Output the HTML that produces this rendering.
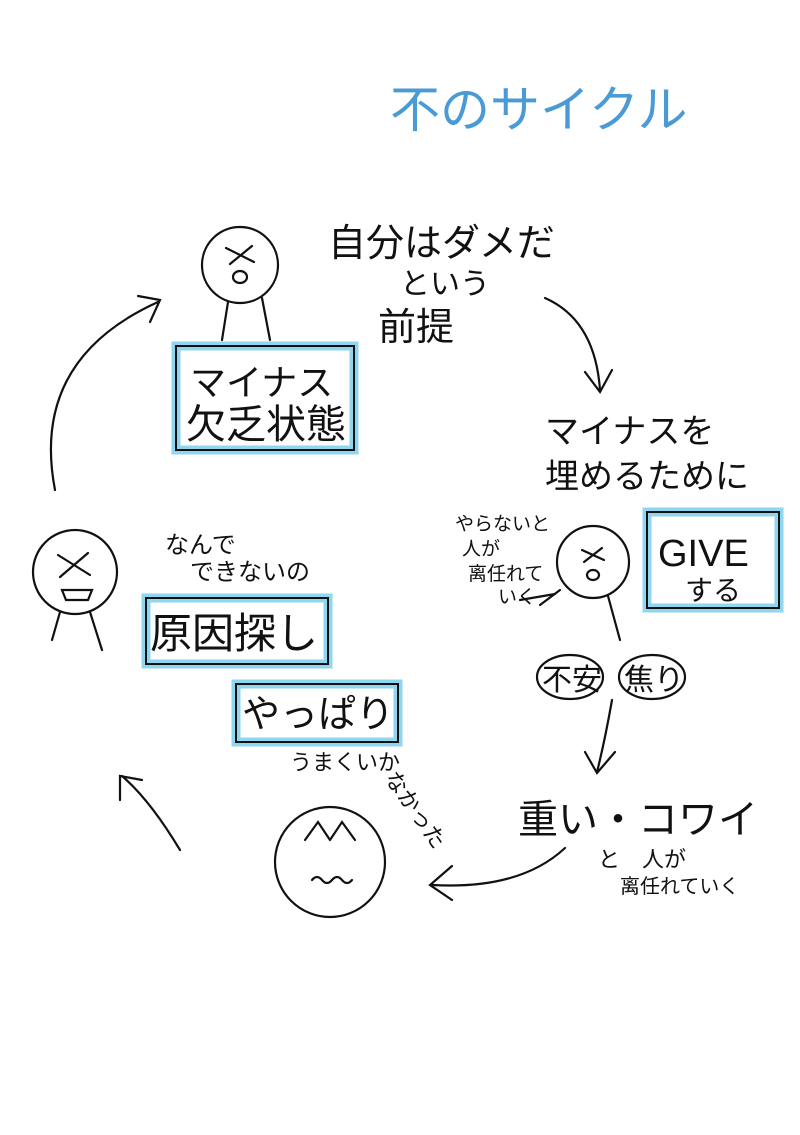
<!DOCTYPE html>
<html><head><meta charset="utf-8"><style>
html,body{margin:0;padding:0;background:#fff;}
svg{display:block;}
text{font-family:"Liberation Sans","Noto Sans CJK JP",sans-serif;fill:#111;}
</style></head><body>
<svg width="800" height="1135" viewBox="0 0 800 1135" xmlns="http://www.w3.org/2000/svg">
<g fill="none" stroke="#111" stroke-width="2.2" stroke-linecap="round">
<circle cx="240" cy="265" r="38"/>
<line x1="228" y1="302" x2="222" y2="340"/><line x1="262" y1="298" x2="270" y2="340"/>
<path d="M226 248 L254 262 M252 246 L230 264"/><ellipse cx="240" cy="277" rx="7" ry="6"/>
<path d="M545 298 Q595 320 600 390"/><path d="M585 372 L600 392 L612 370"/>
<circle cx="593" cy="562" r="36"/>
<path d="M582 550 L604 560 M602 548 L584 562"/><ellipse cx="593" cy="575" rx="6" ry="5"/>
<line x1="608" y1="596" x2="620" y2="640"/><line x1="560" y1="590" x2="540" y2="605"/>
<ellipse cx="570" cy="677" rx="33" ry="22"/><ellipse cx="652" cy="677" rx="33" ry="22"/>
<path d="M612 700 Q605 740 597 772"/><path d="M585 752 L597 773 L615 752"/>
<path d="M565 848 Q520 890 432 885"/><path d="M452 866 L430 885 L452 900"/>
<circle cx="330" cy="862" r="55"/>
<path d="M305 840 L318 822 L330 840 M330 840 L342 822 L355 840"/>
<path d="M312 880 q5 -6 10 0 q5 6 10 0 q5 -6 10 0 q5 6 10 0"/>
<path d="M180 850 Q150 800 122 776"/><path d="M120 800 L120 776 L142 780"/>
<circle cx="75" cy="572" r="42"/>
<path d="M58 555 L90 575 M88 553 L60 577"/><path d="M62 590 L92 590 L88 600 L66 600 Z"/>
<line x1="90" y1="612" x2="102" y2="650"/><line x1="60" y1="612" x2="52" y2="640"/>
<path d="M55 490 Q30 360 158 302"/><path d="M138 296 L160 300 L150 322"/>
<line x1="520" y1="600" x2="555" y2="594"/>
</g>
<g fill="none">
<rect x="176" y="346" width="178" height="104" stroke="#8fd6f0" stroke-width="9"/>
<rect x="176" y="346" width="178" height="104" stroke="#111" stroke-width="2"/>
<rect x="647" y="512" width="132" height="96" stroke="#8fd6f0" stroke-width="9"/>
<rect x="647" y="512" width="132" height="96" stroke="#111" stroke-width="2"/>
<rect x="146" y="598" width="182" height="66" stroke="#8fd6f0" stroke-width="9"/>
<rect x="146" y="598" width="182" height="66" stroke="#111" stroke-width="2"/>
<rect x="236" y="684" width="162" height="58" stroke="#8fd6f0" stroke-width="9"/>
<rect x="236" y="684" width="162" height="58" stroke="#111" stroke-width="2"/>
</g>
<text x="390" y="127" font-size="50" style="fill:#4a9ad6">不のサイクル</text>
<text x="328" y="256" font-size="38">自分はダメだ</text>
<text x="400" y="294" font-size="30">という</text>
<text x="378" y="340" font-size="38">前提</text>
<text x="545" y="443" font-size="34">マイナスを</text>
<text x="545" y="488" font-size="34">埋めるために</text>
<text x="455" y="530" font-size="19">やらないと</text>
<text x="462" y="555" font-size="19">人が</text>
<text x="468" y="580" font-size="19">离任れて</text>
<text x="498" y="603" font-size="19">いく</text>
<text x="658" y="566" font-size="38">GIVE</text>
<text x="685" y="600" font-size="28">する</text>
<text x="542" y="690" font-size="30">不安</text>
<text x="624" y="690" font-size="30">焦り</text>
<text x="518" y="833" font-size="40">重い・コワイ</text>
<text x="598" y="867" font-size="22">と　人が</text>
<text x="620" y="893" font-size="20">离任れていく</text>
<text x="190" y="395" font-size="36">マイナス</text>
<text x="186" y="438" font-size="40">欠乏状態</text>
<text x="165" y="553" font-size="24">なんで</text>
<text x="190" y="580" font-size="24">できないの</text>
<text x="150" y="648" font-size="42">原因探し</text>
<text x="242" y="727" font-size="38">やっぱり</text>
<text x="290" y="770" font-size="22">うまくいか</text>
<text x="384" y="778" font-size="22" transform="rotate(55 384 778)">なかった</text>
</svg>
</body></html>
